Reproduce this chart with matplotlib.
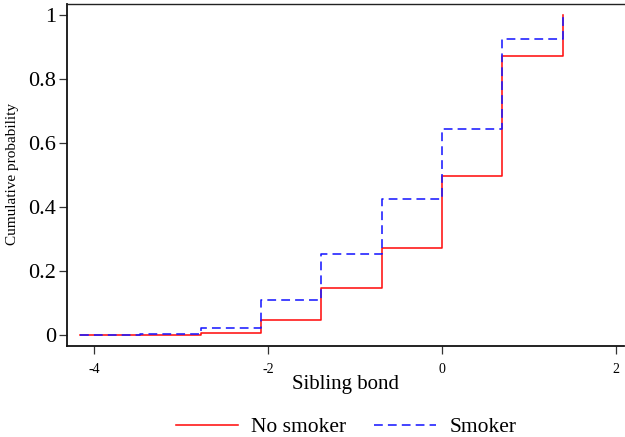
import matplotlib
matplotlib.use("Agg")
import matplotlib.pyplot as plt

# Data (step points, Stata-style connect(J))
sibling_bond = [-4.159, -3.466, -2.773, -2.079, -1.386, -0.693, 0.0, 0.693, 1.386]
no_smoker = [0.000, 0.001, 0.006, 0.046, 0.148, 0.271, 0.497, 0.873, 1.000]
smoker = [0.000, 0.003, 0.021, 0.109, 0.254, 0.425, 0.645, 0.926, 1.000]
xticks = [-4, -2, 0, 2]
yticks = [0, 0.2, 0.4, 0.6, 0.8, 1]
ytick_labels = ["0", "0.2", "0.4", "0.6", "0.8", "1"]

plt.rcParams['font.family'] = ['Liberation Serif', 'DejaVu Serif']
plt.rcParams['axes.unicode_minus'] = False

W, H = 625, 437
fig = plt.figure(figsize=(W / 100, H / 100), dpi=100)
ax = fig.add_axes([67 / W, 1 - 346 / H, (624 - 67) / W, (346 - 4) / H])

ax.step(sibling_bond, no_smoker, where='post', color='#ff1010', lw=1.15,
        label='No smoker', zorder=2)
ax.step(sibling_bond, smoker, where='post', color='#1a1aff', lw=1.15,
        dashes=(5.5, 3.2), label='Smoker', zorder=3)

ax.set_xlim(-4.31, 2.09)
ax.set_ylim(-0.034, 1.034)
ax.set_xticks(xticks)
ax.set_xticklabels([str(t) for t in xticks], fontsize=10)
ax.set_yticks(yticks)
ax.set_yticklabels(ytick_labels, fontsize=16)
ax.tick_params(axis='both', direction='out', length=6, width=0.9, color='#333333')
ax.tick_params(axis='x', pad=6)
ax.tick_params(axis='y', pad=2)

ax.spines['right'].set_visible(False)
for s in ['left', 'bottom']:
    ax.spines[s].set_linewidth(1.3)
    ax.spines[s].set_color('#111111')
ax.spines['top'].set_linewidth(1.0)
ax.spines['top'].set_color('#222222')

fig.text(346 / W, 1 - 384 / H, 'Sibling bond', ha='center', va='center', fontsize=15)
fig.text(13 / W, 1 - 174 / H, 'Cumulative probability', ha='center', va='center',
         rotation=90, fontsize=11)

leg = fig.legend(loc='center', bbox_to_anchor=(346 / W, 1 - 427 / H), ncol=2,
                 frameon=False, fontsize=15.5, handlelength=2.9, handletextpad=0.6,
                 columnspacing=1.3)

fig.savefig('out.png', dpi=100)
